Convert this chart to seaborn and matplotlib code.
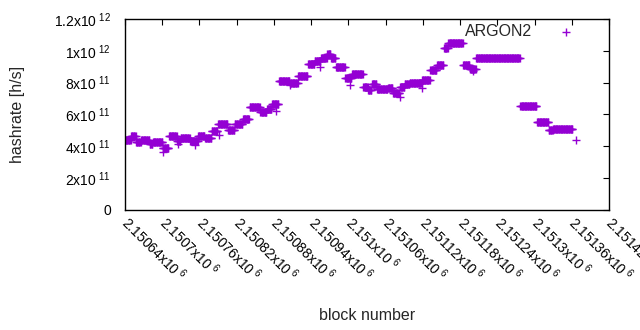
import numpy as np
import pandas as pd
import seaborn as sns
import matplotlib
matplotlib.use("Agg")
import matplotlib.pyplot as plt

# block runs: offset from first block, value in 1e11 h/s
base_block = 2150640
run_start = [0, 10, 18, 26, 40, 45, 61, 71, 84, 90,
             105, 118, 129, 140, 150, 166, 177, 190, 201, 218,
             229, 237, 248, 266, 279, 295, 306, 316, 326, 332,
             340, 355, 366, 384, 392, 398, 406, 424, 432, 443,
             451, 459, 479, 492, 503, 514, 521, 545, 556, 566,
             637, 664, 683, 690]
run_end = run_start[1:] + [722]
run_value = [4.4, 4.6, 4.25, 4.4, 4.1, 4.25, 3.85, 4.6, 4.3, 4.5,
             4.3, 4.6, 4.5, 4.95, 5.4, 5.0, 5.4, 5.7, 6.45, 6.15,
             6.35, 6.65, 8.1, 8.0, 8.4, 9.15, 9.35, 9.55, 9.8, 9.55,
             8.95, 8.3, 8.55, 7.7, 7.55, 7.9, 7.6, 7.65, 7.35, 7.7,
             7.9, 7.95, 8.15, 8.8, 9.1, 10.2, 10.5, 9.1, 8.85, 9.55,
             6.5, 5.5, 5.0, 5.1]

# single stray points
extra_offset = [62, 85, 113, 151, 243, 266, 314, 363, 443, 479, 561, 727]
extra_value = [3.65, 4.15, 4.05, 4.7, 6.2, 7.85, 8.95, 7.85, 7.1, 7.65, 8.7, 4.4]

x_ticks = [2150640, 2150700, 2150760, 2150820, 2150880, 2150940, 2151000,
           2151060, 2151120, 2151180, 2151240, 2151300, 2151360, 2151420]
x_tick_labels = ["2.15064", "2.1507", "2.15076", "2.15082", "2.15088", "2.15094",
                 "2.151", "2.15106", "2.15112", "2.15118", "2.15124", "2.1513",
                 "2.15136", "2.15142"]
y_ticks = [0, 2e11, 4e11, 6e11, 8e11, 1e12, 1.2e12]
y_tick_labels = ["0", "2x10$^{\\ 11}$", "4x10$^{\\ 11}$", "6x10$^{\\ 11}$",
                 "8x10$^{\\ 11}$", "1x10$^{\\ 12}$", "1.2x10$^{\\ 12}$"]

# one point per block inside each run
blocks, rates = [], []
for s, e, v in zip(run_start, run_end, run_value):
    for b in range(s, e):
        blocks.append(base_block + b)
        rates.append(v * 1e11)
for b, v in zip(extra_offset, extra_value):
    blocks.append(base_block + b)
    rates.append(v * 1e11)
df = pd.DataFrame({"block": blocks, "hashrate": rates})

sns.set_style("white")
plt.rcParams['font.family'] = ['Liberation Sans', 'DejaVu Sans']
plt.rcParams['mathtext.default'] = 'regular'
fs = 11.5      # axis labels and legend
tick_fs = 10   # tick labels

fig = plt.figure(figsize=(6.4, 3.3), dpi=100)
ax = fig.add_axes([125 / 640, 1 - 209.5 / 330, 484 / 640, 190.5 / 330])

sns.scatterplot(data=df, x="block", y="hashrate", marker="+", s=36,
                color="#9400d3", linewidth=1.0, label="ARGON2", ax=ax)

ax.set_xlim(2150640, 2151420)
ax.set_ylim(0, 1.2e12)
ax.set_xticks(x_ticks)
ax.set_xticklabels([l + "x10$^{\\ 6}$" for l in x_tick_labels],
                   rotation=-45, ha="left", va="center", rotation_mode="anchor")
ax.set_yticks(y_ticks)
ax.set_yticklabels(y_tick_labels)
ax.tick_params(direction="in", length=4, width=0.8, top=True, right=True,
               labelsize=tick_fs, colors="black")
ax.tick_params(axis="x", pad=7)
ax.tick_params(axis="y", pad=10)
for sp in ax.spines.values():
    sp.set_visible(True)
    sp.set_color("black")
    sp.set_linewidth(1.0)

ax.set_xlabel("block number", fontsize=fs, va="center")
ax.set_ylabel("hashrate [h/s]", fontsize=fs, va="center")
ax.xaxis.set_label_coords(0.5, (209.5 - 316) / 190.5)
ax.yaxis.set_label_coords((18 - 125) / 484, 0.5)

leg = ax.legend(loc="center right", bbox_to_anchor=(0.983, 0.932), frameon=False,
                markerfirst=False, handlelength=3.6, handletextpad=0.3,
                borderaxespad=0, fontsize=fs)

fig.savefig("out.png", dpi=100)
